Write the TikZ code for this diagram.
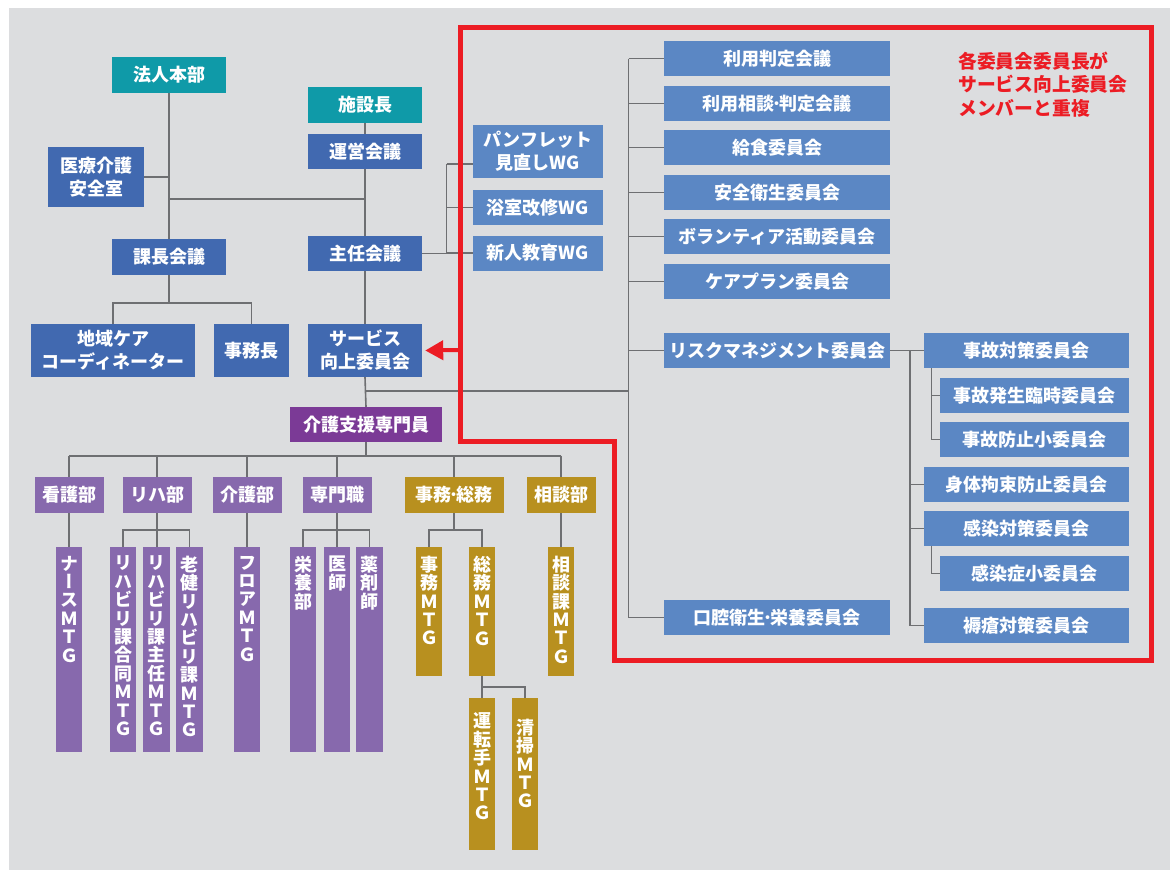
\documentclass[tikz,border=0pt]{standalone}
\usepackage{fontspec}
\usepackage{graphicx}
\usetikzlibrary{arrows.meta,calc}
\newfontfamily\jp{Noto Sans CJK JP}
\newfontfamily\jpv{Noto Sans CJK JP}[RawFeature=+vert]
\definecolor{bgc}{HTML}{DCDDDF}
\definecolor{tealc}{HTML}{0F9AA8}
\definecolor{dblue}{HTML}{4169B0}
\definecolor{mblue}{HTML}{5B87C4}
\definecolor{dpurple}{HTML}{7B3A96}
\definecolor{lpurple}{HTML}{8769AD}
\definecolor{goldc}{HTML}{B8901F}
\definecolor{redc}{HTML}{EC1C24}
\definecolor{linec}{HTML}{6E6F72}
\newcommand\mdot{\kern-0.12em･\kern-0.12em}
\begin{document}
\begin{tikzpicture}[x=1pt,y=-1pt,
  box/.style={rectangle, inner sep=0pt, text=white, font=\jp\bfseries\fontsize{18}{23}\selectfont, align=center},
  cbox/.style={box, fill=mblue, minimum width=226pt, minimum height=35pt},
  rbox/.style={box, fill=mblue, minimum width=204.5pt, minimum height=35pt},
  sbox/.style={box, fill=mblue, minimum width=188.5pt, minimum height=35pt},
  lvtwo/.style={box, minimum width=69pt, minimum height=36pt},
  vbar/.style={rectangle, inner sep=0pt, minimum width=26.5pt},
  vtxt/.style={anchor=north, yshift=-9pt, inner sep=0pt, text=white, font=\jpv\bfseries\fontsize{18}{18.4}\selectfont, align=center},
  wire/.style={draw=linec, line width=1.6pt},
]
\useasboundingbox (0,0) rectangle (1170,870);
\fill[bgc] (9,8) rectangle (1170,870);

% left / top part
\node[box, fill=tealc, minimum width=114pt, minimum height=36pt] (hq) at (169,75) {法人本部};
\node[box, fill=tealc, minimum width=114pt, minimum height=36pt] (shisetsu) at (365,105) {施設長};
\node[box, fill=dblue, minimum width=114pt, minimum height=35pt] (unei) at (365,151.5) {運営会議};
\node[box, fill=dblue, minimum width=96pt, minimum height=60pt] (iryo) at (96,177) {医療介護\\安全室};
\node[box, fill=dblue, minimum width=114pt, minimum height=36pt] (kacho) at (169,257) {課長会議};
\node[box, fill=dblue, minimum width=114pt, minimum height=35pt] (shunin) at (365,253.5) {主任会議};
\node[box, fill=dblue, minimum width=164pt, minimum height=53pt] (chiiki) at (113,350.5) {地域ケア\\コーディネーター};
\node[box, fill=dblue, minimum width=75pt, minimum height=53pt] (jimucho) at (251.5,350.5) {事務長};
\node[box, fill=dblue, minimum width=114pt, minimum height=53pt] (service) at (365,350.5) {サービス\\向上委員会};

% WG
\node[box, fill=mblue, minimum width=130pt, minimum height=53pt] (pamph) at (538,151.5) {パンフレット\\見直しWG};
\node[box, fill=mblue, minimum width=130pt, minimum height=35pt] (yoku) at (538,207.5) {浴室改修WG};
\node[box, fill=mblue, minimum width=130pt, minimum height=35pt] (shinjin) at (538,253) {新人教育WG};

% committees
\node[cbox] (riyo) at (777,58.5) {利用判定会議};
\node[cbox] (soudan) at (777,103.5) {利用相談\mdot 判定会議};
\node[cbox] (kyushoku) at (777,147.5) {給食委員会};
\node[cbox] (anzen) at (777,192.5) {安全衛生委員会};
\node[cbox] (volunteer) at (777,236.5) {ボランティア活動委員会};
\node[cbox] (careplan) at (777,281.5) {ケアプラン委員会};
\node[cbox] (risk) at (777,350.5) {リスクマネジメント委員会};
\node[cbox] (koku) at (777,617.5) {口腔衛生\mdot 栄養委員会};

\node[rbox] (jiko) at (1026.25,350.5) {事故対策委員会};
\node[sbox] (jikohassei) at (1034.25,395.5) {事故発生臨時委員会};
\node[sbox] (jikoboshi) at (1034.25,439.5) {事故防止小委員会};
\node[rbox] (shintai) at (1026.25,484.5) {身体拘束防止委員会};
\node[rbox] (kansen) at (1026.25,528.5) {感染対策委員会};
\node[sbox] (kansensho) at (1034.25,573.5) {感染症小委員会};
\node[rbox] (jokuso) at (1026.25,625.5) {褥瘡対策委員会};

\node[anchor=west, align=left, inner sep=0pt, text=redc, font=\jp\bfseries\fontsize{18.8}{23.5}\selectfont] (note) at (958,84.5) {各委員会委員長が\\サービス向上委員会\\メンバーと重複};

% bottom part
\node[box, fill=dpurple, minimum width=152pt, minimum height=35pt] (kaigoshien) at (366,424.5) {介護支援専門員};
\node[lvtwo, fill=lpurple] (kango) at (69,495) {看護部};
\node[lvtwo, fill=lpurple] (riha) at (157,495) {リハ部};
\node[lvtwo, fill=lpurple] (kaigo) at (247,495) {介護部};
\node[lvtwo, fill=lpurple] (senmon) at (337,495) {専門職};
\node[lvtwo, fill=goldc, minimum width=99pt] (jimu) at (454,495) {事務\mdot 総務};
\node[lvtwo, fill=goldc] (sodan) at (561,495) {相談部};

\node[vbar, fill=lpurple, minimum height=205pt, label={[vtxt]north:{ナ\\ー\\ス\\Ｍ\\Ｔ\\Ｇ}}] (nurse) at (69,649.5) {};
\node[vbar, fill=lpurple, minimum height=205pt, label={[vtxt]north:{リ\\ハ\\ビ\\リ\\課\\合\\同\\Ｍ\\Ｔ\\Ｇ}}] (rg) at (123,649.5) {};
\node[vbar, fill=lpurple, minimum height=205pt, label={[vtxt]north:{リ\\ハ\\ビ\\リ\\課\\主\\任\\Ｍ\\Ｔ\\Ｇ}}] (rs) at (156.5,649.5) {};
\node[vbar, fill=lpurple, minimum height=205pt, label={[vtxt]north:{老\\健\\リ\\ハ\\ビ\\リ\\課\\Ｍ\\Ｔ\\Ｇ}}] (rr) at (189.5,649.5) {};
\node[vbar, fill=lpurple, minimum height=205pt, label={[vtxt]north:{フ\\ロ\\ア\\Ｍ\\Ｔ\\Ｇ}}] (floor) at (247,649.5) {};
\node[vbar, fill=lpurple, minimum height=205pt, label={[vtxt]north:{栄\\養\\部}}] (eiyo) at (303,649.5) {};
\node[vbar, fill=lpurple, minimum height=205pt, label={[vtxt]north:{医\\師}}] (ishi) at (337,649.5) {};
\node[vbar, fill=lpurple, minimum height=205pt, label={[vtxt]north:{薬\\剤\\師}}] (yaku) at (369.5,649.5) {};
\node[vbar, fill=goldc, minimum height=129pt, label={[vtxt]north:{事\\務\\Ｍ\\Ｔ\\Ｇ}}] (jm) at (429,611.5) {};
\node[vbar, fill=goldc, minimum height=129pt, label={[vtxt]north:{総\\務\\Ｍ\\Ｔ\\Ｇ}}] (sm) at (482,611.5) {};
\node[vbar, fill=goldc, minimum height=129pt, label={[vtxt]north:{相\\談\\課\\Ｍ\\Ｔ\\Ｇ}}] (sdk) at (561,611.5) {};
\node[vbar, fill=goldc, minimum height=152pt, label={[vtxt,yshift=-6pt]north:{運\\転\\手\\Ｍ\\Ｔ\\Ｇ}}] (unten) at (482,774) {};
\node[vbar, fill=goldc, minimum height=152pt, label={[vtxt,yshift=-12pt]north:{清\\掃\\Ｍ\\Ｔ\\Ｇ}}] (seisou) at (525,774) {};

% connectors top-left
\coordinate (j1) at (169,199);
\coordinate (kb) at (169,303);
\draw[wire] (hq.south) -- (kacho.north);
\draw[wire] (iryo.east) -- (iryo.east -| hq.south);
\draw[wire] (j1) -- (j1 -| unei.south);
\draw[wire] (shisetsu.south) -- (unei.north);
\draw[wire] (unei.south) -- (shunin.north);
\draw[wire] (shunin.south) -- (service.north);
\draw[wire] (service.south) -- (kaigoshien.north);
\draw[wire] (kacho.south) -- (kb);
\draw[wire] (chiiki.north) -- (chiiki.north |- kb) -- (jimucho.north |- kb) -- (jimucho.north);

% WG
\coordinate (wgx) at (446.5,164);
\draw[wire] (shunin.east) -- (shunin.east -| wgx);
\draw[wire] (wgx) -- (wgx |- shunin.east);
\draw[wire] (wgx) -- (wgx -| pamph.west);
\draw[wire] (wgx |- yoku.west) -- (yoku.west);
\draw[wire] (wgx |- shinjin.west) -- (shinjin.west);

% committees
\coordinate (sj) at (365,391);
\coordinate (cbx) at (628.5,391);
\draw[wire] (sj) -- (cbx);
\draw[wire] (cbx |- riyo.west) -- (cbx |- koku.west);
\foreach \n in {riyo,soudan,kyushoku,anzen,volunteer,careplan,risk,koku}
  \draw[wire] (cbx |- \n.west) -- (\n.west);

\coordinate (rbx) at (910,350.5);
\coordinate (sbx) at (931.5,350.5);
\draw[wire] (risk.east) -- (jiko.west);
\draw[wire] (rbx) -- (rbx |- jokuso.west);
\foreach \n in {shintai,kansen,jokuso}
  \draw[wire] (rbx |- \n.west) -- (\n.west);
\draw[wire] (sbx |- jiko.south) -- (sbx |- jikoboshi.west) -- (jikoboshi.west);
\draw[wire] (sbx |- jikohassei.west) -- (jikohassei.west);
\draw[wire] (sbx |- kansen.south) -- (sbx |- kansensho.west) -- (kansensho.west);

% bottom connectors
\coordinate (bb) at (0,455.7);
\coordinate (lb) at (0,529.7);
\coordinate (ub) at (0,686.7);
\draw[wire] (kaigoshien.south) -- (kaigoshien.south |- bb);
\draw[wire] (kango.north |- bb) -- (sodan.north |- bb);
\foreach \n in {kango,riha,kaigo,senmon,jimu,sodan}
  \draw[wire] (\n.north |- bb) -- (\n.north);
\draw[wire] (kango.south) -- (nurse.north);
\draw[wire] (riha.south) -- (riha.south |- rs.north);
\draw[wire] (rg.north) -- (rg.north |- lb) -- (rr.north |- lb) -- (rr.north);
\draw[wire] (kaigo.south) -- (floor.north);
\draw[wire] (senmon.south) -- (ishi.north);
\draw[wire] (eiyo.north) -- (eiyo.north |- lb) -- (yaku.north |- lb) -- (yaku.north);
\draw[wire] (jimu.south) -- (jimu.south |- lb);
\draw[wire] (jm.north) -- (jm.north |- lb) -- (sm.north |- lb) -- (sm.north);
\draw[wire] (sodan.south) -- (sdk.north);
\draw[wire] (sm.south) -- (sm.south |- ub);
\draw[wire] (unten.north) -- (unten.north |- ub) -- (seisou.north |- ub) -- (seisou.north);

% red frame and arrow
\draw[redc, line width=5pt] (460,27.5) -- (1151.5,27.5) -- (1151.5,660) -- (614,660) -- (614,441.5) -- (460,441.5) -- cycle;
\coordinate (arrS) at (460,350);
\draw[redc, line width=4pt, -{Triangle[length=18pt,width=19pt]}] (arrS) -- ([xshift=3pt]service.east);
\end{tikzpicture}
\end{document}
